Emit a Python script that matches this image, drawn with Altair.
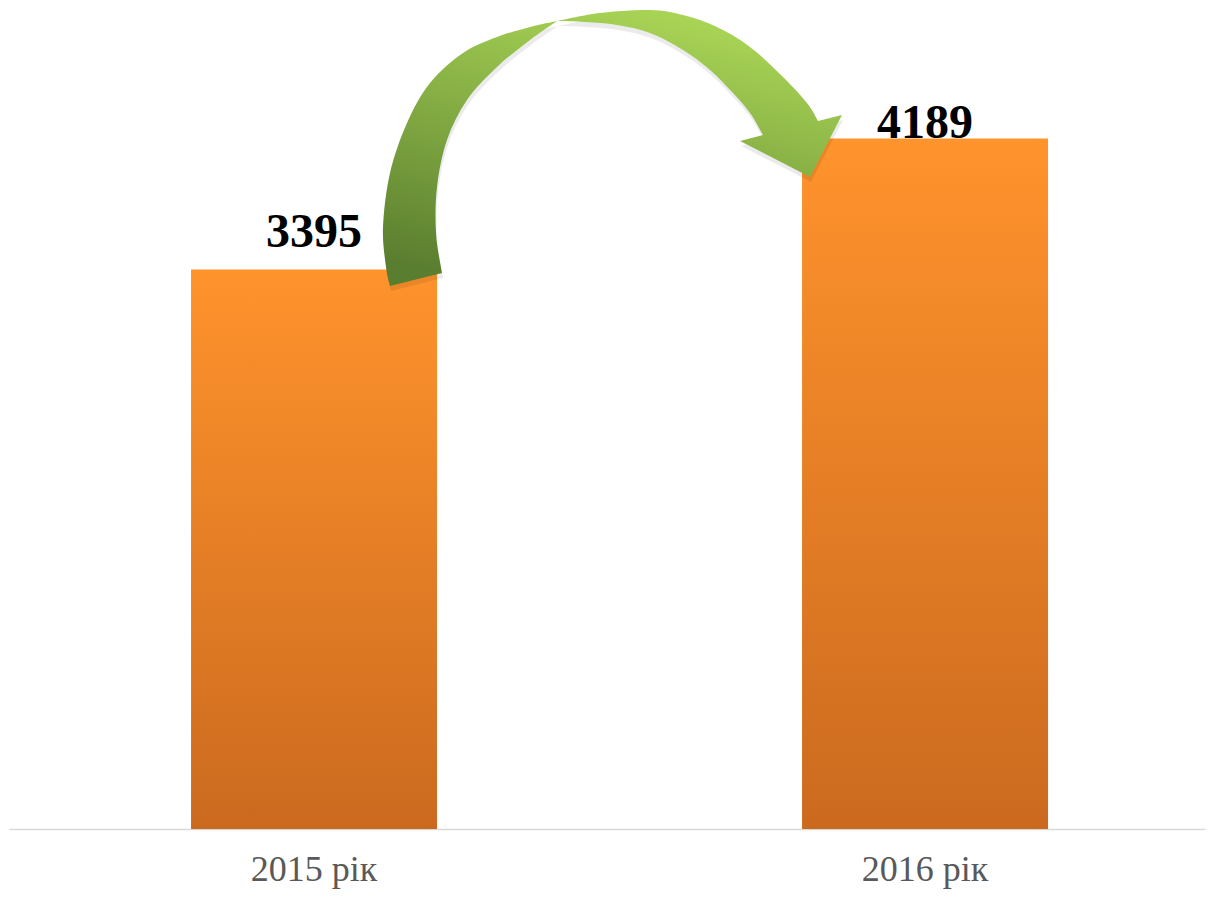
import altair as alt
import pandas as pd

years = ["2015 рік", "2016 рік"]
values = [3395, 4189]

df = pd.DataFrame({"year": years, "value": values})

# ---- decorative curved arrow outline (page pixels), smoothed with Catmull-Rom
CX, CY = 612, 150
left_outer = [(390, 286), (386, 267), (383, 227), (390, 173), (407, 123), (430, 83),
              (463, 53), (497, 37), (530, 27), (557, 21)]
right_outer = [(557, 21), (600, 13), (650, 10), (683, 15), (717, 27), (750, 47),
               (783, 77), (807, 103), (818, 121)]
head = [(842, 115), (810, 177), (740, 141), (763, 135)]
right_inner = [(763, 135), (750, 113), (733, 93), (710, 70), (683, 50), (650, 33),
               (617, 25), (585, 22), (557, 21)]
left_inner = [(557, 21), (530, 40), (497, 67), (467, 100), (447, 140), (437, 187),
              (436, 233), (442, 273)]


def f(p):
    return f"{p[0] - CX:.1f} {p[1] - CY:.1f}"


def smooth(pts):
    s = ""
    n = len(pts)
    for i in range(n - 1):
        p0 = pts[i - 1] if i > 0 else pts[i]
        p1 = pts[i]
        p2 = pts[i + 1]
        p3 = pts[i + 2] if i + 2 < n else p2
        c1 = (p1[0] + (p2[0] - p0[0]) / 6, p1[1] + (p2[1] - p0[1]) / 6)
        c2 = (p2[0] - (p3[0] - p1[0]) / 6, p2[1] - (p3[1] - p1[1]) / 6)
        s += f" C{f(c1)} {f(c2)} {f(p2)}"
    return s


path = "M" + f(left_outer[0]) + smooth(left_outer) + smooth(right_outer)
for p in head:
    path += " L" + f(p)
path += smooth(right_inner) + smooth(left_inner) + " Z"

bar_grad = alt.LinearGradient(
    gradient="linear",
    stops=[alt.GradientStop(color="#ff932c", offset=0),
           alt.GradientStop(color="#cb6a1f", offset=1)],
    x1=0, y1=0, x2=0, y2=1,
)
arrow_grad = alt.LinearGradient(
    gradient="linear",
    stops=[alt.GradientStop(color="#aad656", offset=0),
           alt.GradientStop(color="#5a7e2f", offset=1)],
    x1=0.65, y1=0, x2=0.25, y2=1,
)

base = alt.Chart(df).encode(
    x=alt.X(
        "year:N", sort=None,
        scale=alt.Scale(paddingInner=0.5974, paddingOuter=0.2774, align=0.537, round=False),
        axis=alt.Axis(title=None, labelAngle=0, labelFont="Liberation Serif",
                      labelFontSize=36, labelColor="#595959", labelPadding=23,
                      ticks=False, domainColor="#d9d9d9", domainWidth=1.5, grid=False),
    ),
    y=alt.Y("value:Q", scale=alt.Scale(domain=[0, 4975], nice=False), axis=None),
)

bars = base.mark_bar(color=bar_grad)

one = alt.Chart(pd.DataFrame({"k": [0]}))
shadow = one.mark_point(shape=path, size=4, filled=True, fill="#000000", opacity=0.08,
                        strokeWidth=0).encode(x=alt.value(CX - 9 + 1), y=alt.value(CY - 9 + 5))
arrow = one.mark_point(shape=path, size=4, filled=True, fill=arrow_grad, opacity=1,
                       strokeWidth=0).encode(x=alt.value(CX - 9), y=alt.value(CY - 9))

lab_style = dict(font="Liberation Serif", fontSize=48, fontWeight="bold",
                 color="#000000", baseline="alphabetic")
lab1 = base.transform_filter(alt.datum.year == years[0]).mark_text(dy=-22, **lab_style).encode(
    text=alt.Text("value:Q"))
lab2 = base.transform_filter(alt.datum.year == years[1]).mark_text(dy=-1, **lab_style).encode(
    text=alt.Text("value:Q"))

chart = alt.layer(bars, shadow, arrow, lab1, lab2).properties(
    width=1196, height=820,
    autosize=alt.AutoSizeParams(type="none"),
    padding={"left": 1, "top": 1, "right": 1, "bottom": 60},
    background="white",
).configure_view(stroke=None)

chart.save("out.html", embed_options={"renderer": "svg", "actions": False})
